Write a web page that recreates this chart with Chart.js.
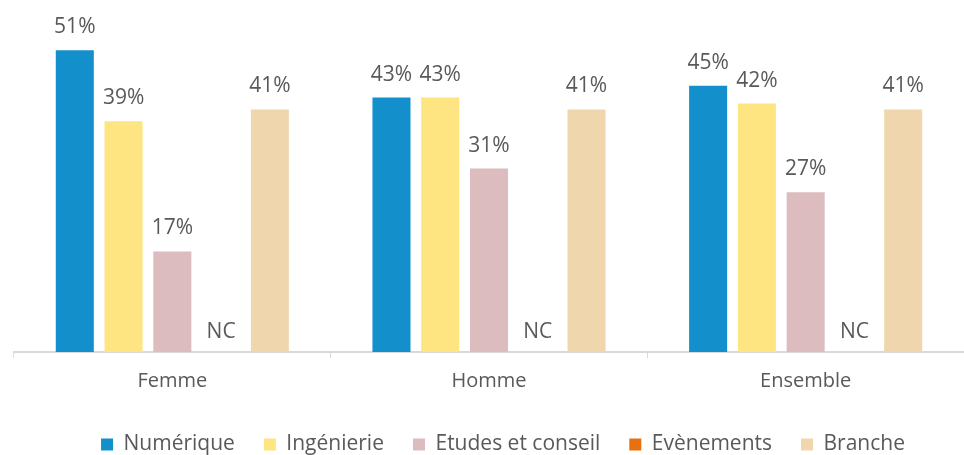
<!DOCTYPE html>
<html>
<head>
<meta charset="utf-8">
<script src="https://cdn.jsdelivr.net/npm/chart.js@4/dist/chart.umd.min.js"></script>
<style>
  html, body { margin: 0; padding: 0; background: #fff; }
  #wrap { width: 964px; height: 455px; }
</style>
</head>
<body>
<div id="wrap"><canvas id="chart"></canvas></div>
<script>
const categories = ["Femme", "Homme", "Ensemble"];
const numerique = [51, 43, 45];
const ingenierie = [39, 43, 42];
const etudes = [17, 31, 27];
const evenements = [null, null, null]; // NC
const branche = [41, 41, 41];

Chart.defaults.font.family = "'Open Sans', sans-serif";
Chart.defaults.color = '#595959';

// value labels above bars, "NC" where there is no value
const barLabels = {
  id: 'barLabels',
  afterDatasetsDraw(chart) {
    const ctx = chart.ctx;
    const yScale = chart.scales.y;
    ctx.save();
    ctx.font = "21px 'Open Sans', sans-serif";
    ctx.fillStyle = '#595959';
    ctx.textAlign = 'center';
    ctx.textBaseline = 'alphabetic';
    chart.data.datasets.forEach((ds, di) => {
      const meta = chart.getDatasetMeta(di);
      meta.data.forEach((bar, i) => {
        const v = ds.data[i];
        let x = bar.x;
        if (!isFinite(x)) {
          const prev = chart.getDatasetMeta(di - 1).data[i];
          const next = chart.getDatasetMeta(di + 1).data[i];
          x = (prev.x + next.x) / 2;
        }
        if (v === null) {
          ctx.fillText('NC', x, yScale.getPixelForValue(0) - 14);
        } else {
          ctx.fillText(v + '%', x, bar.y - 17);
        }
      });
    });
    ctx.restore();
  }
};

// the legend sits a little right of centre in the original
const legendShift = {
  id: 'legendShift',
  afterLayout(chart) {
    chart.legend.left += 28;
  }
};

new Chart(document.getElementById('chart'), {
  type: 'bar',
  data: {
    labels: categories,
    datasets: [
      { label: 'Numérique', data: numerique, backgroundColor: '#138fcc' },
      { label: 'Ingénierie', data: ingenierie, backgroundColor: '#ffe581' },
      { label: 'Etudes et conseil', data: etudes, backgroundColor: '#dcbcbe' },
      { label: 'Evènements', data: evenements, backgroundColor: '#e8700e' },
      { label: 'Branche', data: branche, backgroundColor: '#f0d6ad' }
    ]
  },
  options: {
    responsive: true,
    maintainAspectRatio: false,
    animation: false,
    categoryPercentage: 0.77,
    barPercentage: 0.78,
    layout: { padding: { left: 14, right: 0, top: 0, bottom: -10 } },
    plugins: {
      legend: {
        position: 'bottom',
        labels: {
          boxWidth: 12,
          boxHeight: 12,
          padding: 29,
          color: '#595959',
          font: { size: 21 }
        }
      },
      tooltip: { enabled: false }
    },
    scales: {
      x: {
        grid: {
          drawOnChartArea: false,
          drawTicks: true,
          tickLength: 6,
          color: '#d9d9d9'
        },
        border: { color: '#d9d9d9', width: 2 },
        ticks: {
          color: '#595959',
          font: { size: 20, lineHeight: 0.55 },
          padding: 18
        }
      },
      y: {
        display: false,
        min: 0,
        max: 59.5
      }
    }
  },
  plugins: [barLabels, legendShift]
});
</script>
</body>
</html>
